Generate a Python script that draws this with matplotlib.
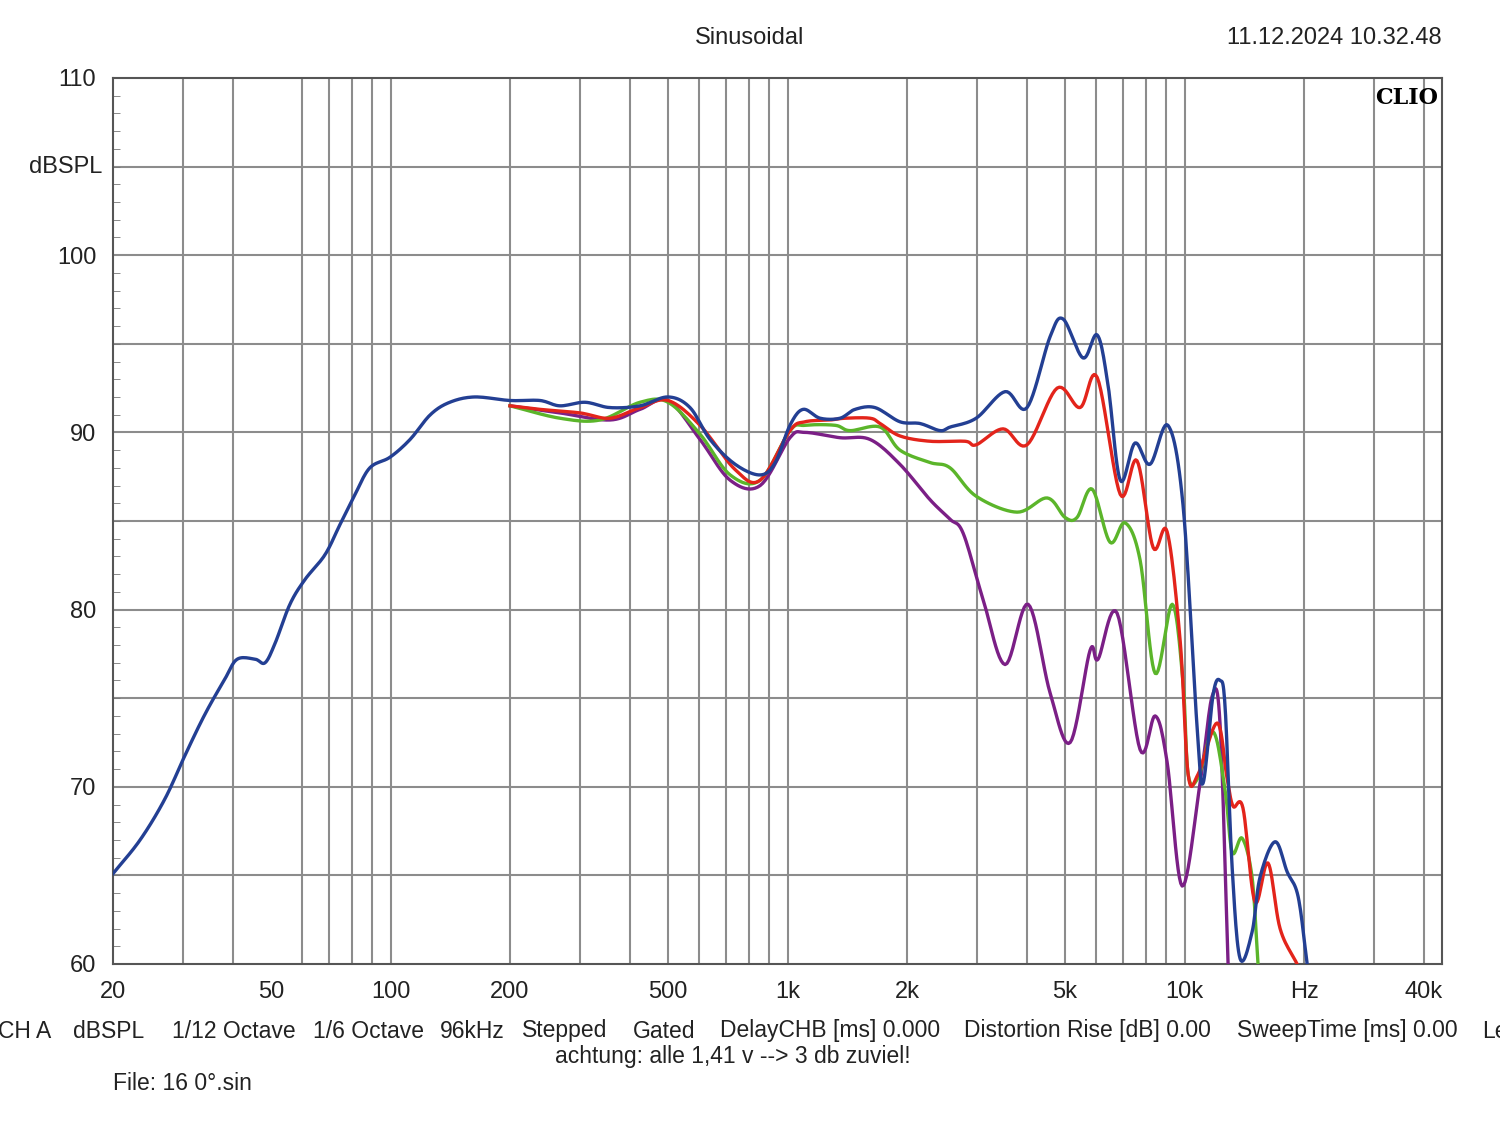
import numpy as np
import matplotlib
matplotlib.use("Agg")
import matplotlib.pyplot as plt

blue_f = [20,23.4,27.0,30.4,34.1,38.3,41.1,45.6,48.3,51.2,55.8,60.9,68.4,74.6,81.4,88.7,99.7,112,126,141,163,200,238,267,309,357,425,500,568,638,738,853,931,1014,1094,1208,1356,1479,1661,1919,2158,2421,2566,2985,3531,4010,4584,4944,5548,6025,6413,6887,7500,8185,9080,9910,10750,11130,11800,12280,12650,13180,13800,14790,15490,16900,18130,19320,20360]
blue_db = [65.1,67.0,69.3,71.8,74.1,76.1,77.2,77.2,77.0,78.1,80.3,81.7,83.1,84.8,86.5,88.0,88.6,89.6,91.0,91.7,92.0,91.8,91.8,91.5,91.7,91.4,91.5,92.0,91.4,89.6,88.2,87.6,88.3,90.4,91.3,90.8,90.8,91.3,91.4,90.6,90.5,90.1,90.3,90.8,92.3,91.4,95.4,96.4,94.2,95.5,92.7,87.3,89.4,88.2,90.4,85.9,73.4,70.2,75.2,76.0,74.5,65.4,60.3,61.8,64.9,66.9,65.2,63.8,60.0]

red_f = [200,238,300,357,425,500,602,738,853,1014,1107,1280,1396,1614,1711,1919,2285,2800,2985,3490,4010,4776,5455,6025,6887,7590,8335,9036,9750,10210,10810,12080,12790,13250,14030,15040,16220,17400,19200]
red_db = [91.5,91.3,91.1,90.8,91.4,91.8,90.4,87.9,87.3,90.1,90.6,90.7,90.8,90.8,90.5,89.8,89.5,89.5,89.3,90.2,89.3,92.5,91.4,93.1,86.5,88.4,83.5,84.4,78.2,70.7,70.7,73.6,70.5,68.9,68.8,63.5,65.7,62.0,60.0]

green_f = [200,267,337,425,500,602,717,853,1014,1107,1318,1437,1711,1919,2285,2566,2985,3786,4508,5000,5360,5850,6490,7080,7725,8433,9310,9910,10210,10810,11800,12650,13180,13960,14790,15310]
green_db = [91.5,90.8,90.7,91.7,91.7,89.9,87.6,87.3,90.1,90.4,90.4,90.1,90.3,89.0,88.3,88.0,86.4,85.5,86.3,85.2,85.2,86.8,83.8,84.9,82.8,76.4,80.3,75.9,70.7,70.5,73.1,69.8,66.3,67.1,64.9,60.0]

purple_f = [200,267,357,425,500,602,717,853,1014,1107,1356,1614,1919,2285,2566,2770,3106,3531,4036,4584,5150,5780,6055,6761,7725,8433,9036,9860,10940,11730,12280,12870]
purple_db = [91.5,91.1,90.7,91.3,91.8,89.6,87.3,87.0,89.7,90.0,89.7,89.6,88.2,86.2,85.1,84.3,80.6,76.9,80.3,75.3,72.5,77.7,77.2,79.8,72.1,74.0,71.4,64.4,70.2,75.1,73.6,60.0]

x_ticks = [20,50,100,200,500,1000,2000,5000,10000,20000,40000]
x_labels = ["20","50","100","200","500","1k","2k","5k","10k","Hz","40k"]
y_ticks = [60,70,80,90,100,110]
footer = [("CH A", -2), ("dBSPL", 73), ("1/12 Octave", 172), ("1/6 Octave", 313), ("96kHz", 440),
          ("Stepped", 522), ("Gated", 633), ("DelayCHB [ms] 0.000", 720),
          ("Distortion Rise [dB] 0.00", 964), ("SweepTime [ms] 0.00", 1237), ("Le", 1482)]


def smooth(f, d, n=12):
    x = np.log10(np.asarray(f, float)); y = np.asarray(d, float)
    px = np.concatenate([[2*x[0]-x[1]], x, [2*x[-1]-x[-2]]])
    py = np.concatenate([[2*y[0]-y[1]], y, [2*y[-1]-y[-2]]])
    xs, ys = [], []
    for i in range(1, len(px)-2):
        t = np.linspace(0, 1, n, endpoint=False)
        for arr, out in ((px, xs), (py, ys)):
            p0, p1, p2, p3 = arr[i-1], arr[i], arr[i+1], arr[i+2]
            out.extend(0.5*((2*p1) + (-p0+p2)*t + (2*p0-5*p1+4*p2-p3)*t**2 + (-p0+3*p1-3*p2+p3)*t**3))
    xs.append(x[-1]); ys.append(y[-1])
    return 10**np.array(xs), np.array(ys)

plt.rcParams["font.family"] = "Liberation Sans"
fig = plt.figure(figsize=(15, 11.21), dpi=100)
ax = fig.add_axes([113/1500, 1-964/1121, (1442-113)/1500, (964-78)/1121])
ax.set_xscale("log")
ax.set_xlim(20, 44500)
ax.set_ylim(60, 110)

vgrid = [30,40,60,70,80,90,100,200,300,400,500,600,700,800,900,1000,2000,3000,4000,5000,6000,7000,8000,9000,10000,20000,30000,40000]
for v in vgrid:
    ax.axvline(v, color="#8c8c8c", lw=1.5, zorder=1)
for h in range(65, 110, 5):
    ax.axhline(h, color="#8c8c8c", lw=1.5, zorder=1)

for f, d, c in ((purple_f, purple_db, "#7b1f86"), (green_f, green_db, "#5bb52a"),
                (red_f, red_db, "#e3241b"), (blue_f, blue_db, "#233f93")):
    xs, ys = smooth(f, d)
    ax.plot(xs, ys, color=c, lw=2.4, zorder=3, clip_on=True)

ax.set_xticks(x_ticks)
ax.set_xticklabels(x_labels)
ax.xaxis.set_minor_locator(matplotlib.ticker.NullLocator())
ax.set_yticks(y_ticks)
ax.set_yticks(np.arange(60, 111, 1), minor=True)
ax.tick_params(axis="both", which="major", labelsize=17, length=0, pad=12, colors="#222222")
ax.tick_params(axis="y", which="minor", length=5, direction="in", color="#777777")
for s in ax.spines.values():
    s.set_color("#555555"); s.set_linewidth(1.5)
ax.text(-0.008, 105, "dBSPL", transform=ax.get_yaxis_transform(), ha="right", va="center", fontsize=17, color="#222222")
ax.text(0.997, 0.99, "CLIO", transform=ax.transAxes, ha="right", va="top", fontsize=16,
        fontweight="bold", family="DejaVu Serif")

fig.text(750/1500, 1-38/1121, "Sinusoidal", ha="center", va="center", fontsize=17, color="#222222")
fig.text(1442/1500, 1-38/1121, "11.12.2024 10.32.48", ha="right", va="center", fontsize=17, color="#222222")
for txt, xp in footer:
    fig.text(xp/1500, 1-1031/1121, txt, ha="left", va="center", fontsize=16.5, color="#222222")
fig.text(733/1500, 1-1057/1121, "achtung: alle 1,41 v --> 3 db zuviel!", ha="center", va="center", fontsize=16.5, color="#222222")
fig.text(113/1500, 1-1084/1121, "File: 16 0°.sin", ha="left", va="center", fontsize=16.5, color="#222222")

fig.savefig("out.png", dpi=100)
